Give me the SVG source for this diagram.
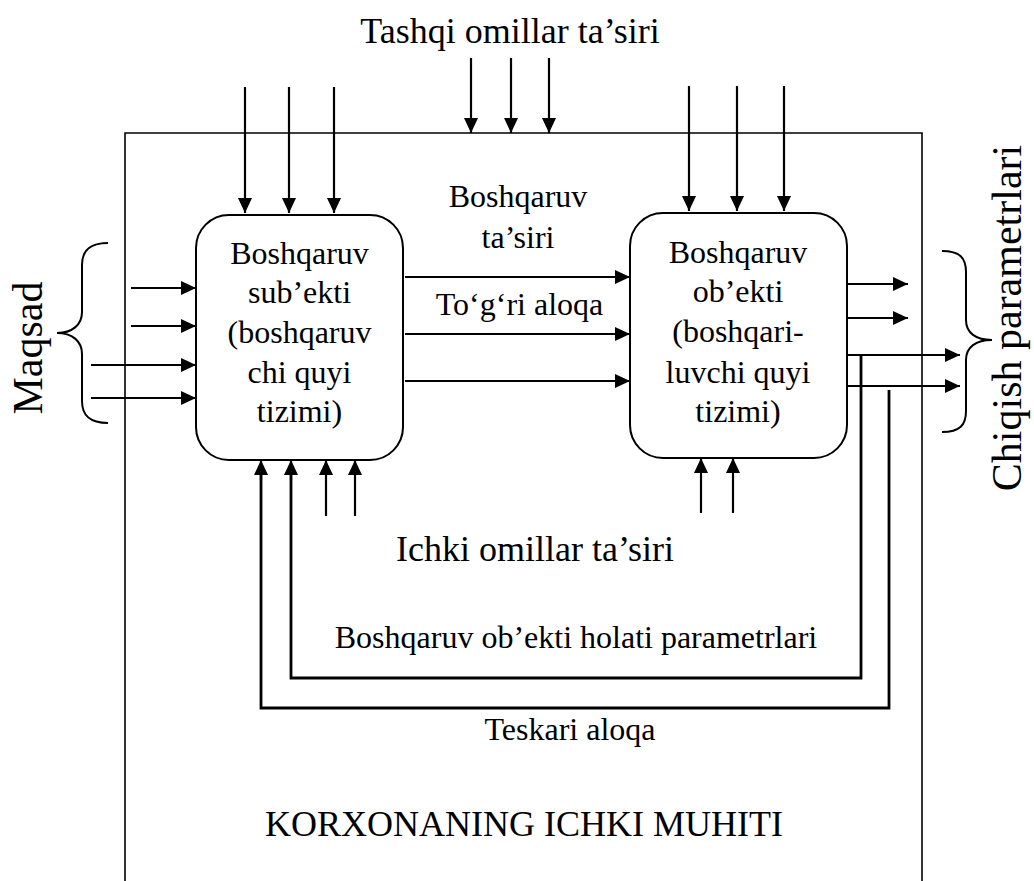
<svg xmlns="http://www.w3.org/2000/svg" width="1034" height="881" viewBox="0 0 1034 881">
  <style>
    text { font-family: "Liberation Serif", "Times New Roman", serif; fill: #000; }
    .lbl { font-size: 32px; text-anchor: middle; }
    .big { font-size: 36px; text-anchor: middle; }
    .side { font-size: 42px; text-anchor: middle; }
    .frame { fill: none; stroke: #000; stroke-width: 1.6; }
    .box { fill: #fff; stroke: #000; stroke-width: 2; }
    .arr { fill: none; stroke: #000; stroke-width: 2.2; marker-end: url(#head); }
    .fb { fill: none; stroke: #000; stroke-width: 2.8; }
    .brace { fill: none; stroke: #000; stroke-width: 2; }
  </style>
  <defs>
    <marker id="head" viewBox="0 0 15 14" refX="15" refY="7" markerWidth="15" markerHeight="14" markerUnits="userSpaceOnUse" orient="auto">
      <path d="M0,0 L15,7 L0,14 z" fill="#000"/>
    </marker>
  </defs>

  <rect width="1034" height="881" fill="#fff"/>

  <!-- enterprise boundary (open at the bottom) -->
  <g id="environment">
    <path class="frame" d="M125,881 V133 H922 V881"/>
    <text class="big" x="524" y="836">KORXONANING ICHKI MUHITI</text>
  </g>

  <!-- control subject -->
  <g id="subject">
    <rect class="box" x="196" y="215" width="207" height="245" rx="33" ry="33"/>
    <text class="lbl" x="299.5" y="264">Boshqaruv</text>
    <text class="lbl" x="299.5" y="303">sub’ekti</text>
    <text class="lbl" x="299.5" y="343">(boshqaruv</text>
    <text class="lbl" x="299.5" y="383">chi quyi</text>
    <text class="lbl" x="299.5" y="422">tizimi)</text>
  </g>

  <!-- control object -->
  <g id="object">
    <rect class="box" x="630" y="213" width="217" height="245" rx="33" ry="33"/>
    <text class="lbl" x="738" y="263">Boshqaruv</text>
    <text class="lbl" x="738" y="302">ob’ekti</text>
    <text class="lbl" x="738" y="342">(boshqari-</text>
    <text class="lbl" x="738" y="383">luvchi quyi</text>
    <text class="lbl" x="738" y="422">tizimi)</text>
  </g>

  <!-- labels -->
  <g id="labels">
    <text class="big" x="510" y="43">Tashqi omillar ta’siri</text>
    <text class="lbl" x="518" y="207">Boshqaruv</text>
    <text class="lbl" x="518" y="248">ta’siri</text>
    <text class="lbl" x="519.5" y="315">To‘g‘ri aloqa</text>
    <text class="big" x="535" y="561">Ichki omillar ta’siri</text>
    <text class="lbl" x="576" y="648">Boshqaruv ob’ekti holati parametrlari</text>
    <text class="lbl" x="570" y="740">Teskari aloqa</text>
    <text class="side" transform="translate(42,348) rotate(-90)">Maqsad</text>
    <text class="side" transform="translate(1021,318) rotate(-90)">Chiqish parametrlari</text>
  </g>

  <!-- braces -->
  <g id="braces">
    <path class="brace" d="M108,243 C90,243 82,250 82,265 L82,312 C82,325 72,333 57,333 C72,333 82,341 82,354 L82,401 C82,416 90,423 108,423"/>
    <path class="brace" d="M942,251 C960,251 966,258 966,272 L966,320 C966,333 976,340 992,340 C976,340 966,347 966,360 L966,411 C966,425 960,432 942,432"/>
  </g>

  <!-- connectors -->
  <g id="connectors">
    <!-- external factors -->
    <path class="arr" d="M245,87 V213"/>
    <path class="arr" d="M289,87 V213"/>
    <path class="arr" d="M334,87 V213"/>
    <path class="arr" d="M471,58 V133"/>
    <path class="arr" d="M511,58 V133"/>
    <path class="arr" d="M549,58 V133"/>
    <path class="arr" d="M689,86 V211"/>
    <path class="arr" d="M737,86 V211"/>
    <path class="arr" d="M784,86 V211"/>

    <!-- goals -->
    <path class="arr" d="M131,288 H196"/>
    <path class="arr" d="M131,326 H196"/>
    <path class="arr" d="M91,365 H196"/>
    <path class="arr" d="M91,398 H196"/>

    <!-- subject to object -->
    <path class="arr" d="M405,277 H630"/>
    <path class="arr" d="M405,334 H630"/>
    <path class="arr" d="M405,381 H630"/>

    <!-- outputs -->
    <path class="arr" d="M847,284 H908"/>
    <path class="arr" d="M847,318 H908"/>
    <path class="arr" d="M847,355 H960"/>
    <path class="arr" d="M847,386 H960"/>

    <!-- internal factors -->
    <path class="arr" d="M326,516 V460"/>
    <path class="arr" d="M355,516 V460"/>
    <path class="arr" d="M701,513 V458"/>
    <path class="arr" d="M733,513 V458"/>

    <!-- state parameters feedback -->
    <path class="fb" d="M861,355 V678 H291 V475"/>
    <path class="arr" d="M291,480 V460"/>
    <!-- reverse feedback -->
    <path class="fb" d="M889,390 V708 H261 V475"/>
    <path class="arr" d="M261,480 V460"/>
  </g>
</svg>
